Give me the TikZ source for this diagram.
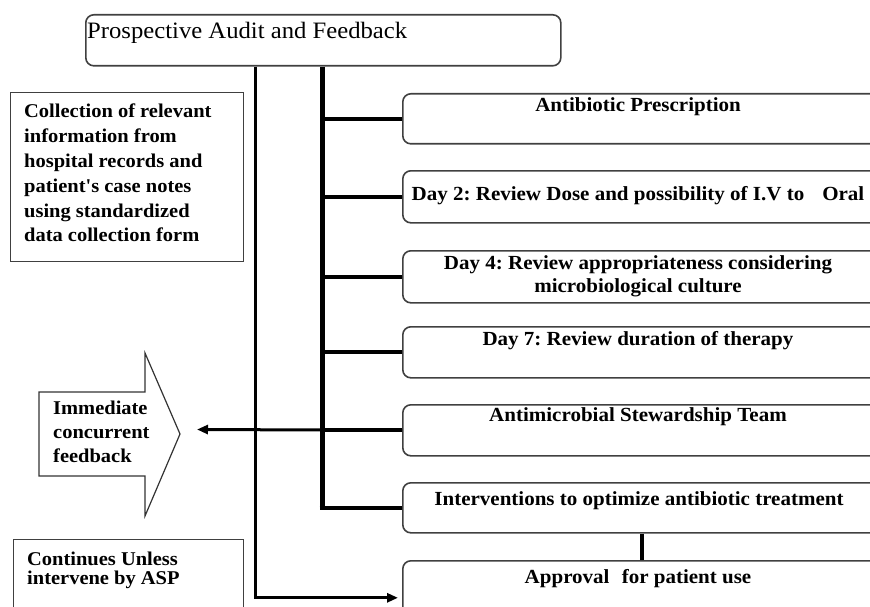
\documentclass[tikz,border=0pt]{standalone}
\usepackage{fontspec}
\setmainfont[FakeStretch=1.05]{Liberation Serif}
\usetikzlibrary{arrows.meta}
\newcommand{\straightq}{{\addfontfeatures{Ligatures=TeXOff}'}}
\begin{document}
\begin{tikzpicture}[x=1pt,y=-1pt,
  rbox/.style={draw=black!75, line width=1.6pt, rounded corners=8pt, anchor=north west, inner sep=0pt, minimum width=478pt},
  sbox/.style={draw=black!75, line width=1.4pt, anchor=north west, inner sep=0pt},
  lbl/.style={font=\bfseries\fontsize{20}{23}\selectfont, inner sep=0pt, align=center},
  sidetext/.style={font=\bfseries\fontsize{19.5}{24.8}\selectfont, inner sep=0pt, align=left, anchor=north west},
  trunkthick/.style={line width=5pt},
  trunkthin/.style={line width=3pt},
  branch/.style={line width=4pt},
  arrowline/.style={line width=3pt, -{Triangle[length=11pt,width=9pt]}},
]
\useasboundingbox (0,0) rectangle (870,607);
\clip (0,0) rectangle (870,607);

% top box
\node[rbox, minimum width=475pt, minimum height=51pt] (top) at (85,14) {};
\node[font=\fontsize{23.5}{26}\selectfont, inner sep=0pt, anchor=west] (toplbl) at (87,33) {Prospective Audit and Feedback};

% right column boxes
\node[rbox, minimum height=50pt] (b1) at (402,93) {};
\node[rbox, minimum height=52pt] (b2) at (402,170) {};
\node[rbox, minimum height=52pt] (b3) at (402,250) {};
\node[rbox, minimum height=51pt] (b4) at (402,326) {};
\node[rbox, minimum height=51pt] (b5) at (402,404) {};
\node[rbox, minimum height=50pt] (b6) at (402,482) {};
\node[rbox, minimum height=74pt] (b7) at (402,560) {};

\node[lbl] (l1) at (638,107) {Antibiotic Prescription};
\node[lbl] (l2) at (638,196) {Day 2:\ Review Dose and possibility of I.V to\hspace{0.9em}Oral};
\node[lbl] (l3) at (638,276) {Day 4:\ Review appropriateness considering\\microbiological culture};
\node[lbl] (l4) at (638,341) {Day 7:\ Review duration of therapy};
\node[lbl] (l5) at (638,417) {Antimicrobial Stewardship Team};
\node[lbl] (l6) at (639,501) {Interventions to optimize antibiotic treatment};
\node[lbl] (l7) at (638,579) {Approval\hspace{0.35em} for patient use};

% left boxes
\node[sbox, minimum width=233pt, minimum height=169pt] (coll) at (10,92) {};
\node[sidetext] (colllbl) at (24,104) {Collection of relevant\\information from\\hospital records and\\patient\straightq s case notes\\using standardized\\data collection form};

\node[sbox, minimum width=230pt, minimum height=90pt] (cont) at (13,539) {};
\node[sidetext, font=\bfseries\fontsize{19.5}{19}\selectfont] (contlbl) at (27,552) {Continues Unless\\intervene by ASP};

% block arrow "Immediate concurrent feedback"
\draw[black!80, line width=1.2pt, line join=miter] (39,392) -- (145,392) -- (145,353) -- (180,434) -- (145,516) -- (145,476) -- (39,476) -- cycle;
\node[sidetext, font=\bfseries\fontsize{19.5}{24}\selectfont] (immlbl) at (53,401) {Immediate\\concurrent\\feedback};

% trunk coordinates
\coordinate (xthin) at (255,0);
\coordinate (xthick) at (322,0);
\coordinate (fbtip) at (197,429.5);

% thin trunk with arrow to approval
\draw[trunkthin, -{Triangle[length=11pt,width=9pt]}, shorten >=4pt] (top.south -| xthin) |- (b7.west);

% thick trunk with branches
\draw[trunkthick] (top.south -| xthick) -- (b6.west -| xthick);
\draw[branch] (b1.west -| xthick) -- (b1.west);
\draw[branch] (b2.west -| xthick) -- (b2.west);
\draw[branch] (b3.west -| xthick) -- (b3.west);
\draw[branch] (b4.west -| xthick) -- (b4.west);
\draw[branch] (b5.west -| xthick) -- (b5.west);
\draw[branch] ([xshift=-2.5pt]b6.west -| xthick) -- (b6.west);

% feedback arrow
\draw[arrowline] (b5.west) -- (fbtip);

% interventions to approval
\draw[branch] (b6.south) -- (b7.north);
\end{tikzpicture}
\end{document}
